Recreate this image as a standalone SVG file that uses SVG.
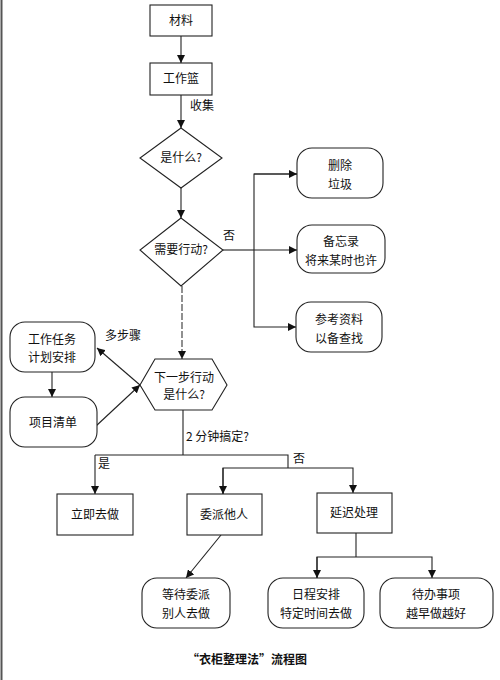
<svg xmlns="http://www.w3.org/2000/svg" width="500" height="680" viewBox="0 0 500 680">
<style>
.n{fill:#fff;stroke:#222;stroke-width:1.1}
.t{font-family:"Noto Sans CJK SC","Noto Sans",sans-serif;font-size:12px;fill:#111;text-anchor:middle}
.l{font-family:"Noto Sans CJK SC","Noto Sans",sans-serif;font-size:12px;fill:#111}
.c{fill:none;stroke:#222;stroke-width:1.1}
.d{fill:none;stroke:#555;stroke-width:1.3;stroke-dasharray:7 2}
</style>
<defs>
<marker id="a" viewBox="0 0 10 10" refX="10" refY="5" markerWidth="8" markerHeight="8" markerUnits="userSpaceOnUse" orient="auto">
<path d="M0,0 L10,5 L0,10 z" fill="#111"/>
</marker>
</defs>
<rect width="500" height="680" fill="#fff"/>
<line x1="1.5" y1="0" x2="1.5" y2="680" stroke="#555" stroke-width="2"/>
<g id="connectors">
<line class="c" x1="181" y1="36" x2="181" y2="63" marker-end="url(#a)"/>
<line class="c" x1="181" y1="95" x2="181" y2="128" marker-end="url(#a)"/>
<line class="c" x1="181" y1="188" x2="181" y2="218" marker-end="url(#a)"/>
<line class="d" x1="182" y1="286" x2="182" y2="359" marker-end="url(#a)"/>
<polyline class="c" points="223,250 254,250"/>
<polyline class="c" points="297,174 254,174 254,327 296,327" marker-end="url(#a)"/>
<line class="c" x1="254" y1="174" x2="297" y2="174" marker-end="url(#a)"/>
<line class="c" x1="254" y1="250" x2="297" y2="250" marker-end="url(#a)"/>
<line class="c" x1="52" y1="372" x2="52" y2="397" marker-end="url(#a)"/>
<line class="c" x1="96" y1="426" x2="140" y2="385" marker-end="url(#a)"/>
<line class="c" x1="140" y1="385" x2="97" y2="348" marker-end="url(#a)"/>
<polyline class="c" points="183,410 183,455"/>
<polyline class="c" points="95,455 288,455 288,468"/>
<line class="c" x1="95" y1="455" x2="95" y2="494" marker-end="url(#a)"/>
<polyline class="c" points="223,494 223,468 353,468 353,493" marker-end="url(#a)"/>
<line class="c" x1="223" y1="468" x2="223" y2="494" marker-end="url(#a)"/>
<line class="c" x1="221" y1="535" x2="186" y2="578" marker-end="url(#a)"/>
<polyline class="c" points="356,533 356,557"/>
<polyline class="c" points="317,578 317,557 432,557 432,578" marker-end="url(#a)"/>
<line class="c" x1="317" y1="557" x2="317" y2="578" marker-end="url(#a)"/>
</g>
<g id="n1"><rect class="n" x="150" y="5" width="62" height="31"/><text class="t" x="181" y="25">材料</text></g>
<g id="n2"><rect class="n" x="150" y="63" width="62" height="32"/><text class="t" x="181" y="83">工作篮</text></g>
<text class="l" x="190" y="110">收集</text>
<g id="n3"><polygon class="n" points="181,128 222,158 181,188 140,158"/><text class="t" x="181" y="162">是什么?</text></g>
<g id="n4"><polygon class="n" points="181,218 223,250 181,286 140,250"/><text class="t" x="181" y="254">需要行动?</text></g>
<text class="l" x="223" y="240">否</text>
<g id="n5"><rect class="n" x="297" y="148" width="86" height="50" rx="15"/><text class="t" x="340" y="170">删除</text><text class="t" x="340" y="189">垃圾</text></g>
<g id="n6"><rect class="n" x="297" y="225" width="88" height="48" rx="15"/><text class="t" x="341" y="246">备忘录</text><text class="t" x="341" y="265">将来某时也许</text></g>
<g id="n7"><rect class="n" x="296" y="302" width="86" height="50" rx="15"/><text class="t" x="339" y="324">参考资料</text><text class="t" x="339" y="343">以备查找</text></g>
<text class="l" x="105" y="340">多步骤</text>
<g id="n8"><rect class="n" x="10" y="322" width="85" height="50" rx="15"/><text class="t" x="52" y="344">工作任务</text><text class="t" x="52" y="362">计划安排</text></g>
<g id="n9"><rect class="n" x="10" y="397" width="87" height="50" rx="15"/><text class="t" x="53" y="427">项目清单</text></g>
<g id="n10"><polygon class="n" points="155,359 212,359 227,385 212,410 155,410 140,385"/><text class="t" x="184" y="382">下一步行动</text><text class="t" x="184" y="399">是什么?</text></g>
<text class="l" x="186" y="441">2 分钟搞定?</text>
<text class="l" x="98" y="468">是</text>
<text class="l" x="293" y="463">否</text>
<g id="n11"><rect class="n" x="57" y="494" width="76" height="41"/><text class="t" x="95" y="519">立即去做</text></g>
<g id="n12"><rect class="n" x="187" y="494" width="75" height="41"/><text class="t" x="224" y="519">委派他人</text></g>
<g id="n13"><rect class="n" x="317" y="493" width="75" height="40"/><text class="t" x="354" y="517">延迟处理</text></g>
<g id="n14"><rect class="n" x="142" y="578" width="88" height="50" rx="15"/><text class="t" x="186" y="599">等待委派</text><text class="t" x="186" y="618">别人去做</text></g>
<g id="n15"><rect class="n" x="268" y="578" width="96" height="50" rx="15"/><text class="t" x="316" y="599">日程安排</text><text class="t" x="316" y="618">特定时间去做</text></g>
<g id="n16"><rect class="n" x="380" y="578" width="113" height="50" rx="15"/><text class="t" x="436" y="599">待办事项</text><text class="t" x="436" y="618">越早做越好</text></g>
<text class="t" x="247" y="664" style="font-weight:bold">“衣柜整理法”流程图</text>
</svg>
